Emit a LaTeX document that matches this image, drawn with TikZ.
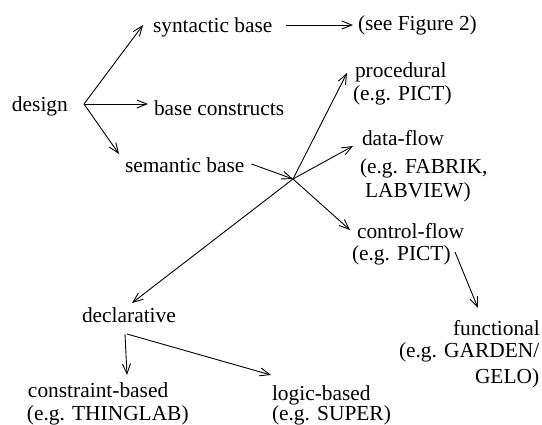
\documentclass[tikz,border=0pt]{standalone}
\usepackage{fontspec}
\setmainfont{Liberation Serif}
\usetikzlibrary{arrows.meta}
\tikzset{
  lbl/.style={inner sep=0pt, outer sep=0pt, anchor=base west, font=\fontsize{21.4}{23}\selectfont, align=left},
  arr/.style={-{Straight Barb[length=10pt,width=8pt]}, line width=0.9pt}
}
\begin{document}
\begin{tikzpicture}[x=1pt,y=-1pt]
\useasboundingbox (0,0) rectangle (542,424);
% nodes (multi-line nodes are placed by the baseline of their last line)
\node[lbl] (design) at (12,111) {design};
\node[lbl] (syn) at (153,32) {syntactic base};
\node[lbl] (fig) at (358,30) {(see Figure 2)};
\node[lbl] (bc) at (154,115) {base constructs};
\node[lbl] (sem) at (125,172) {semantic base};
\node[lbl] (proc) at (353,100) {\hspace*{2pt}procedural\\(e.g. PICT)};
\node[lbl] (df) at (360,197) {\hspace*{2pt}data-flow\\[5pt](e.g. FABRIK,\\[1pt]\hspace*{5pt}LABVIEW)};
\node[lbl] (cf) at (352,260) {\hspace*{5pt}control-flow\\[-1pt](e.g. PICT)};
\node[lbl] (func) at (399,383) {\hspace*{54pt}functional\\[-1pt](e.g. GARDEN/\\[3pt]\hspace*{76pt}GELO)};
\node[lbl] (decl) at (82,322) {declarative};
\node[lbl] (cons) at (27,420) {\hspace*{1pt}constraint-based\\(e.g. THINGLAB)};
\node[lbl] (logic) at (272,420) {logic-based\\[-3pt](e.g. SUPER)};
% hubs
\coordinate (d0) at (84,104);
\coordinate (h) at (293,179);
% connectors
\draw[arr] (d0) -- ([shift={(-10,-7)}]syn.base west);
\draw[arr] (d0) -- ([shift={(-6,-11)}]bc.base west);
\draw[arr] (d0) -- ([shift={(-6,-18)}]sem.base west);
\draw[arr] ([shift={(14,-7)}]syn.base east) -- ([shift={(-5,-5)}]fig.base west);
\draw[arr] ([shift={(7,-8)}]sem.base east) -- (h);
\draw[arr] (h) -- ([shift={(-6,-27)}]proc.base west);
\draw[arr] (h) -- ([shift={(-7,-51)}]df.base west);
\draw[arr] (h) -- ([shift={(-2,-30)}]cf.base west);
\draw[arr] (h) -- ([shift={(50,-19)}]decl.base west);
\draw[arr] ([shift={(43,12)}]decl.base west) -- ([shift={(100,-45)}]cons.base west);
\draw[arr] ([shift={(45,12)}]decl.base west) -- ([shift={(-1,-45)}]logic.base west);
\draw[arr] ([shift={(103,-8)}]cf.base west) -- ([shift={(79,-75)}]func.base west);
\end{tikzpicture}
\end{document}
